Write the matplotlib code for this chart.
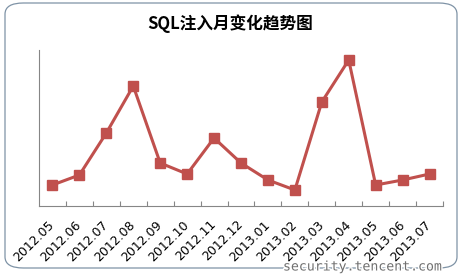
import numpy as np
import matplotlib
matplotlib.use("Agg")
import matplotlib.pyplot as plt
from matplotlib.patches import FancyBboxPatch
import matplotlib.patheffects as pe

plt.rcParams['font.family'] = ['Noto Sans CJK SC', 'DejaVu Sans']

months = ["2012.05", "2012.06", "2012.07", "2012.08", "2012.09", "2012.10", "2012.11",
          "2012.12", "2013.01", "2013.02", "2013.03", "2013.04", "2013.05", "2013.06", "2013.07"]
counts = [21, 31, 73, 120, 43, 32, 68, 43, 26, 16, 104, 146, 21, 26, 32]

fig = plt.figure(figsize=(4.6, 2.79), dpi=100)
fig.patch.set_facecolor('white')

# rounded frame around the chart (behind the axes)
box = FancyBboxPatch((5/460, 1 - 268/279), 452/460, 265/279,
                     boxstyle="round,pad=0,rounding_size=0.04",
                     transform=fig.transFigure, facecolor='white',
                     edgecolor='#7f93a6', linewidth=0.9, zorder=-1)
fig.patches.append(box)

ax = fig.add_axes([39/460, 1 - 206/279, 404/460, 156/279])
ax.set_facecolor('none')
x = np.arange(len(months))
ax.plot(x, counts, color='#c0504d', linewidth=2.2, marker='s', markersize=6.5,
        markerfacecolor='#c0504d', markeredgecolor='#c0504d')

ax.set_xlim(-0.5, len(months) - 0.5)
ax.set_ylim(0, 156)
ax.spines['top'].set_visible(False)
ax.spines['right'].set_visible(False)
ax.spines['left'].set_color('#868686')
ax.spines['bottom'].set_color('#868686')
ax.set_yticks([])

ax.set_xticks(np.arange(0.5, len(months) - 0.4, 1))
ax.set_xticklabels([])
ax.tick_params(axis='x', which='major', direction='in', length=3.5, color='#868686', width=0.8)
ax.set_xticks(x, minor=True)
ax.set_xticklabels(months, minor=True, rotation=45, ha='right', va='center',
                   rotation_mode='anchor', fontsize=9, family='DejaVu Sans')
ax.tick_params(axis='x', which='minor', length=0, pad=12)

fig.text(0.5, 1 - 24/279, "SQL注入月变化趋势图", ha='center', va='center',
         fontsize=12, fontweight='bold')

fig.text(443/460, 1 - 267/279, "security.tencent.com", ha='right', va='center',
         fontsize=9.5, family='DejaVu Sans Mono', color='#707070',
         path_effects=[pe.withStroke(linewidth=2, foreground='white')])

fig.savefig("out.png", dpi=100)
